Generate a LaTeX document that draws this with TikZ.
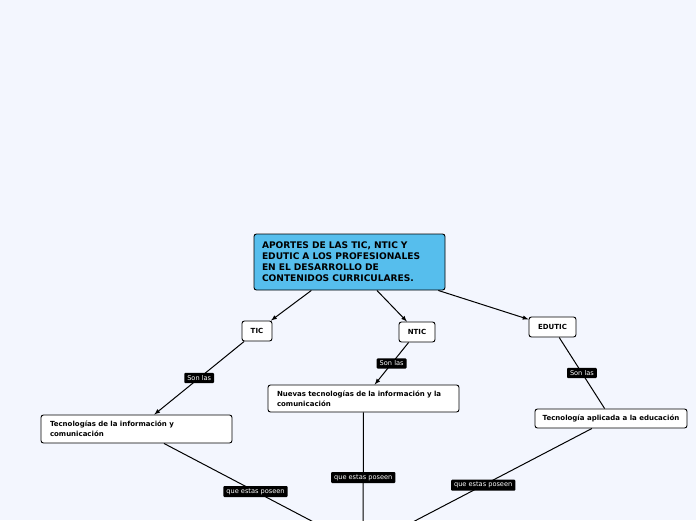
\documentclass[tikz,border=0pt]{standalone}
\usepackage{fontspec}
\setmainfont{DejaVu Sans}
\tikzstyle{block} = [draw, rectangle, fill=white, rounded corners=2.5pt, line width=0.9pt, font=\fontsize{7}{10}\selectfont\bfseries, inner sep=0pt]
\tikzstyle{topic} = [block, fill=blue1, align=left, text width=175pt, minimum width=191pt, minimum height=56pt, font=\fontsize{9.1}{11}\selectfont\bfseries]
\tikzstyle{tag} = [fill=black, text=white, rounded corners=1pt, inner xsep=3pt, inner ysep=2.5pt, font=\fontsize{6.6}{7}\selectfont]
\tikzstyle{arrow} = [draw, line width=1pt, -latex]
\tikzstyle{link} = [draw, line width=1pt]
\definecolor{blue1}{RGB}{86,190,237}
\definecolor{back1}{RGB}{243,246,254}

\begin{document}
\begin{tikzpicture}[x=1pt, y=-1pt]
	\clip (0,0) rectangle (696,520);
	\fill [back1] (0,0) rectangle (696,520);

	\node [topic] (aportes) at (349.5,262) {APORTES DE LAS TIC, NTIC Y\\EDUTIC A LOS PROFESIONALES\\EN EL DESARROLLO DE\\CONTENIDOS CURRICULARES.};
	\node [block, minimum width=30pt, minimum height=20pt] (tic) at (257,331) {TIC};
	\node [block, minimum width=36pt, minimum height=20pt] (ntic) at (417,332) {NTIC};
	\node [block, minimum width=47pt, minimum height=20pt] (edutic) at (552.5,327) {EDUTIC};

	\node [block, align=left, text width=173pt, minimum width=191pt, minimum height=28pt] (tecinfo) at (136.5,429) {Tecnologías de la información y\\comunicación};
	\node [block, align=left, text width=173pt, minimum width=191pt, minimum height=27pt] (nuevas) at (363.5,398.5) {Nuevas tecnologías de la información y la\\comunicación};
	\node [block, minimum width=152pt, minimum height=19pt] (tecedu) at (611,418.5) {Tecnología aplicada a la educación};

	\coordinate (hidden) at (363,548);

	\draw [arrow] (aportes) to (tic);
	\draw [arrow] (aportes) to (ntic);
	\draw [arrow] (aportes) to (edutic);

	\draw [arrow] (tic) to node[tag, pos=0.5] {Son las} (tecinfo);
	\draw [arrow] (ntic) to node[tag, pos=0.5] {Son las} (nuevas);
	\draw [link] (edutic) to node[tag, pos=0.5] {Son las} (tecedu);

	\draw [link] (tecinfo) to node[tag, pos=0.46] {que estas poseen} (hidden);
	\draw [link] (nuevas) to node[tag, pos=0.48] {que estas poseen} (hidden);
	\draw [link] (tecedu) to node[tag, pos=0.475] {que estas poseen} (hidden);
\end{tikzpicture}
\end{document}
